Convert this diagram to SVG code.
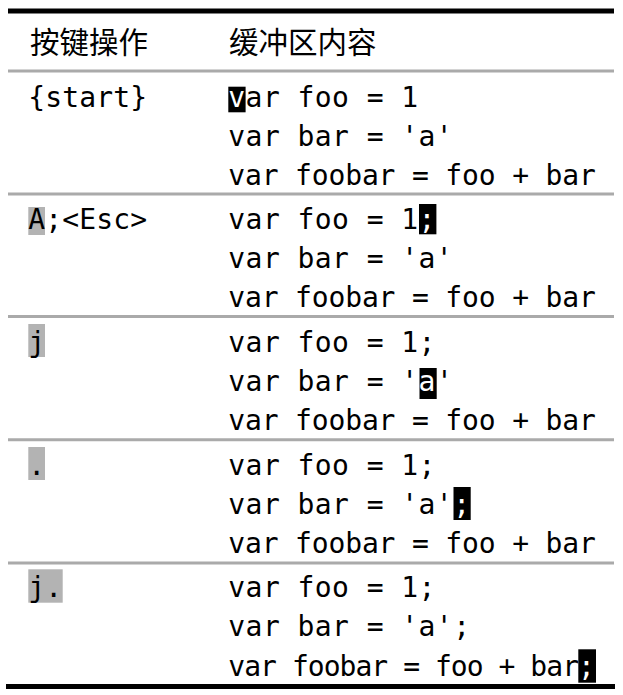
<svg xmlns="http://www.w3.org/2000/svg" width="623" height="695" viewBox="0 0 623 695">
<style>
.hd{font-family:"Noto Sans CJK SC","Noto Sans",sans-serif;font-size:29.5px;fill:#000}
.m{font-family:"DejaVu Sans Mono","Liberation Mono",monospace;font-size:28px;fill:#000}
.k{letter-spacing:0.14px}
.a{letter-spacing:0.44px}
.b{letter-spacing:-0.16px}
.c{letter-spacing:-0.96px}
.inv{fill:#fff}
.cur{fill:#000}
.key{fill:#b3b3b3}
.thick{stroke:#000;stroke-width:5}
.thin{stroke:#aaaaaa;stroke-width:3}
</style>
<rect width="623" height="695" fill="#fff"/>
<g id="rules">
<line class="thick" x1="8" y1="11" x2="614" y2="11"/>
<line class="thin" x1="8" y1="71" x2="614" y2="71"/>
<line class="thin" x1="8" y1="194" x2="614" y2="194"/>
<line class="thin" x1="8" y1="316.5" x2="614" y2="316.5"/>
<line class="thin" x1="8" y1="439.7" x2="614" y2="439.7"/>
<line class="thin" x1="8" y1="563" x2="614" y2="563"/>
<line class="thick" x1="6" y1="686.5" x2="615" y2="686.5"/>
</g>
<g id="header">
<text class="hd" x="30" y="52.5">按键操作</text>
<text class="hd" x="229" y="52.5">缓冲区内容</text>
</g>
<g id="row-start">
<text class="m k" x="28.3" y="106.5">{start}</text>
<rect class="cur" x="228.3" y="86.7" width="17.3" height="25.6"/>
<text class="m a" x="228.3" y="106.5"><tspan class="inv">v</tspan>ar foo = 1</text>
<text class="m a" x="228.3" y="145.5">var bar = 'a'</text>
<text class="m b" x="228.3" y="184.5">var foobar = foo + bar</text>
</g>
<g id="row-A">
<rect class="key" x="28.3" y="207" width="16.7" height="28"/>
<text class="m k" x="28.3" y="229.2">A;&lt;Esc&gt;</text>
<rect class="cur" x="419" y="204" width="17.4" height="30.3"/>
<text class="m a" x="228.3" y="229.2">var foo = 1<tspan class="inv">;</tspan></text>
<text class="m a" x="228.3" y="268.2">var bar = 'a'</text>
<text class="m b" x="228.3" y="307.2">var foobar = foo + bar</text>
</g>
<g id="row-j">
<rect class="key" x="28.3" y="324" width="16.7" height="33"/>
<text class="m k" x="28.3" y="351.9">j</text>
<text class="m a" x="228.3" y="351.9">var foo = 1;</text>
<rect class="cur" x="419.5" y="368" width="17.2" height="31"/>
<text class="m a" x="228.3" y="390.9">var bar = '<tspan class="inv">a</tspan>'</text>
<text class="m b" x="228.3" y="429.9">var foobar = foo + bar</text>
</g>
<g id="row-dot">
<rect class="key" x="28.3" y="447" width="16.7" height="33"/>
<text class="m k" x="28.3" y="474.6">.</text>
<text class="m a" x="228.3" y="474.6">var foo = 1;</text>
<rect class="cur" x="453.5" y="487" width="17.2" height="33"/>
<text class="m a" x="228.3" y="513.6">var bar = 'a'<tspan class="inv">;</tspan></text>
<text class="m b" x="228.3" y="552.6">var foobar = foo + bar</text>
</g>
<g id="row-jdot">
<rect class="key" x="28.3" y="569.3" width="34.4" height="33.4"/>
<text class="m k" x="28.3" y="597.3">j.</text>
<text class="m a" x="228.3" y="597.3">var foo = 1;</text>
<text class="m a" x="228.3" y="636.3">var bar = 'a';</text>
<rect class="cur" x="578.3" y="649.3" width="17.7" height="33.4"/>
<text class="m c" x="228.3" y="676">var foobar = foo + bar<tspan class="inv">;</tspan></text>
</g>
</svg>
